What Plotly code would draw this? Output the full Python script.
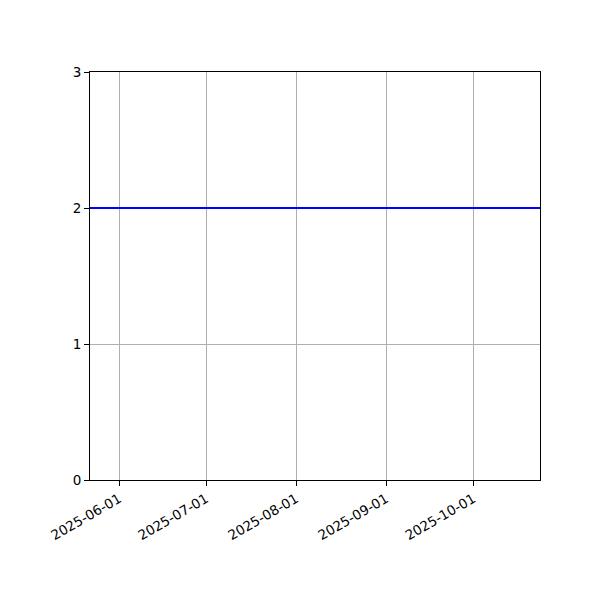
import plotly.graph_objects as go

# data
dates = ["2025-05-22", "2025-10-24"]
values = [2, 2]
tick_dates = ["2025-06-01", "2025-07-01", "2025-08-01", "2025-09-01", "2025-10-01"]
y_ticks = [0, 1, 2, 3]

fig = go.Figure()
fig.add_trace(go.Scatter(x=dates, y=values, mode="lines",
                         line=dict(color="#0000ff", width=2), showlegend=False))

axis_style = dict(showline=True, linecolor="black", linewidth=1, mirror=True,
                  ticks="outside", ticklen=5, tickcolor="black",
                  showgrid=True, gridcolor="#b0b0b0", gridwidth=1, zeroline=False,
                  tickfont=dict(family="DejaVu Sans", size=13.5, color="black"))

fig.update_layout(
    width=600, height=600,
    margin=dict(l=82, r=68, t=64, b=128),
    plot_bgcolor="white", paper_bgcolor="white",
    xaxis=dict(type="date", range=[dates[0], dates[-1]], tickvals=tick_dates,
               ticktext=tick_dates, tickangle=-30, **axis_style),
    yaxis=dict(range=[0, 3], tickvals=y_ticks, **axis_style),
)

fig.write_html("out.html")
